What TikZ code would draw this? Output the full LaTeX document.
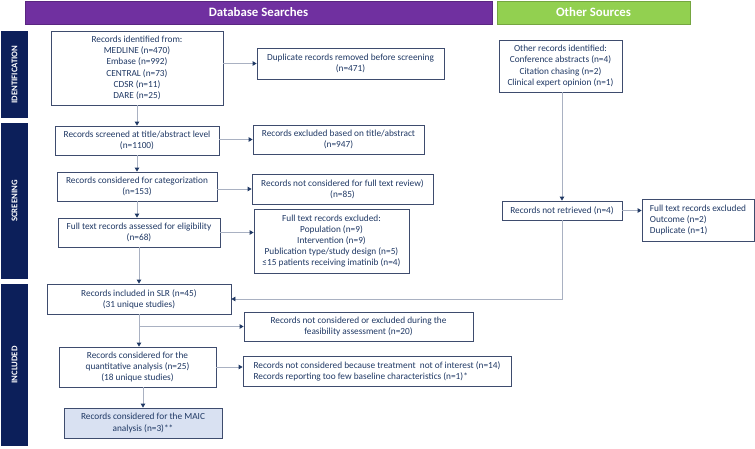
\documentclass[tikz,border=0pt]{standalone}
\usepackage{fontspec}
\setmainfont{Carlito}
\usepackage{xcolor}
\usetikzlibrary{arrows.meta}
\definecolor{mynavy}{HTML}{1F3864}
\definecolor{myside}{HTML}{0C1F5A}
\definecolor{myedge}{HTML}{3E4C6E}
\definecolor{myline}{HTML}{A9B1C2}
\definecolor{mypurple}{HTML}{7030A0}
\definecolor{mygreen}{HTML}{92D050}
\definecolor{myfill}{HTML}{D9E1F2}
\tikzset{
  box/.style={draw=myedge, thick, align=center, inner sep=2pt, text=mynavy,
    font=\fontsize{9.3}{11.2}\selectfont},
  header/.style={text=white, font=\fontsize{12.8}{14}\selectfont\bfseries},
  side/.style={fill=myside, text=white, rotate=90,
    font=\fontsize{8.7}{10}\selectfont\bfseries},
  flow/.style={myline, thick, -{Triangle[length=4pt,width=4.5pt,color=mynavy]}},
  link/.style={myline, thick}
}
\begin{document}
\begin{tikzpicture}[x=1pt, y=-1pt]
    \useasboundingbox (0,0) rectangle (755,448);

    % headers
    \node[header, fill=mypurple, draw=mypurple!80!black, minimum width=467, minimum height=23] (dbhead) at (258.5,12.5) {Database Searches};
    \node[header, fill=mygreen, draw=mygreen!80!black, minimum width=193, minimum height=23] (otherhead) at (593.5,12.5) {Other Sources};

    % side bars
    \node[side, minimum width=87, minimum height=27] (identbar) at (14.5,74.5) {IDENTIFICATION};
    \node[side, minimum width=156, minimum height=27] (screenbar) at (14.5,201) {SCREENING};
    \node[side, minimum width=162, minimum height=27] (inclbar) at (14.5,365) {INCLUDED};

    % database searches
    \node[box, minimum width=172, minimum height=74] (ident) at (137,68) {Records identified from:\\MEDLINE (n=470)\\Embase (n=992)\\CENTRAL (n=73)\\CDSR (n=11)\\DARE (n=25)};
    \node[box, minimum width=187, minimum height=31] (dup) at (350.5,63.5) {Duplicate records removed before screening\\(n=471)};
    \node[box, minimum width=164, minimum height=29] (screened) at (137,140.5) {Records screened at title/abstract level\\(n=1100)};
    \node[box, minimum width=171, minimum height=29] (exclta) at (338.5,139.5) {Records excluded based on title/abstract\\(n=947)};
    \node[box, minimum width=160, minimum height=29] (categ) at (137,186.5) {Records considered for categorization\\(n=153)};
    \node[box, minimum width=181, minimum height=30] (notfull) at (342.5,189) {Records not considered for full text review)\\(n=85)};
    \node[box, minimum width=162, minimum height=29] (fulltext) at (139,232.5) {Full text records assessed for eligibility\\(n=68)};
    \node[box, minimum width=155, minimum height=64] (exclft) at (331.5,241) {Full text records excluded:\\Population (n=9)\\Intervention (n=9)\\Publication type/study design (n=5)\\≤15 patients receiving imatinib (n=4)};
    \node[box, minimum width=184, minimum height=30] (slr) at (139,299) {Records included in SLR (n=45)\\(31 unique studies)};
    \node[box, minimum width=229, minimum height=29] (feas) at (358.5,326.5) {Records not considered or excluded during the\\feasibility assessment (n=20)};
    \node[box, minimum width=157, minimum height=40] (quant) at (137.5,367) {Records considered for the\\quantitative analysis (n=25)\\(18 unique studies)};
    \node[box, minimum width=268, minimum height=30, align=left] (notint) at (377,371) {Records not considered because treatment\ \ not of interest (n=14)\\Records reporting too few baseline characteristics (n=1)*};
    \node[box, fill=myfill, minimum width=158, minimum height=30] (maic) at (143,423) {Records considered for the MAIC\\analysis (n=3)**};

    % other sources
    \node[box, minimum width=123, minimum height=52] (other) at (560.5,66) {Other records identified:\\Conference abstracts (n=4)\\Citation chasing (n=2)\\Clinical expert opinion (n=1)};
    \node[box, minimum width=120, minimum height=19] (notret) at (562,210.5) {Records not retrieved (n=4)};
    \node[box, minimum width=112, minimum height=42, align=left] (exclother) at (698,220) {Full text records excluded\\Outcome (n=2)\\Duplicate (n=1)};

    % arrows
    \draw[flow] (ident) -- (ident |- screened.north);
    \draw[flow] (screened) -- (screened |- categ.north);
    \draw[flow] (categ) -- (categ |- fulltext.north);
    \draw[flow] (fulltext) -- (fulltext |- slr.north);
    \draw[flow] (slr) -- (slr |- quant.north);
    \draw[flow] (quant.south -| maic) -- (maic.north);
    \draw[flow] (dup.west -| ident.east) -- (dup.west);
    \draw[flow] (exclta.west -| screened.east) -- (exclta.west);
    \draw[flow] (notfull.west -| categ.east) -- (notfull.west);
    \draw[flow] (fulltext.east) -- (fulltext.east -| exclft.west);
    \coordinate (split) at (slr.south |- feas.west);
    \draw[flow] (split) -- (feas.west);
    \draw[flow] (quant.east) -- (quant.east -| notint.west);
    \draw[flow] (other.south -| notret) -- (notret.north);
    \draw[flow] (notret.east) -- (notret.east -| exclother.west);
    \draw[flow] (notret.south) |- (slr.east);
\end{tikzpicture}
\end{document}
